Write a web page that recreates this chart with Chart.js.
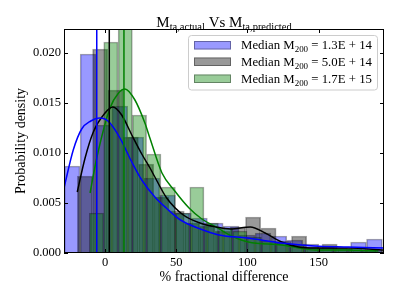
<!DOCTYPE html>
<html>
<head>
<meta charset="utf-8">
<script src="https://cdn.jsdelivr.net/npm/chart.js@4"></script>
<style>
  html, body { margin: 0; padding: 0; background: #fff; }
  canvas { display: block; }
</style>
</head>
<body>
<canvas id="chart" width="399" height="299"></canvas>
<script>
// axis ranges and ticks
const xRange = [-28.8, 195.9];
const yRange = [0, 0.0224];
const xTicks = [0, 50, 100, 150];
const yTicks = [0, 0.005, 0.010, 0.015, 0.020];

// histogram bins (bin centre, density) for each mass group
const blueCentres = [-23.1, -11.9, -0.8, 10.4, 21.6, 32.8, 43.9, 55.1, 66.3, 77.4, 88.6, 99.8, 110.9, 122.1, 133.3, 144.5, 155.6, 166.8, 178.0, 189.2];
const blueDensity = [0.0087, 0.0199, 0.0128, 0.0147, 0.0116, 0.0075, 0.0058, 0.0040, 0.0035, 0.0030, 0.0027, 0.0018, 0.0020, 0.0017, 0.0013, 0.0009, 0.0006, 0.0005, 0.0011, 0.0014];

const blackCentres = [-14.1, -3.4, 7.4, 18.1, 28.9, 39.6, 50.3, 61.1, 71.8, 82.6, 93.3, 104.0, 114.8, 125.5, 136.3, 147.0, 157.7, 168.5, 179.2, 190.0];
const blackDensity = [0.0077, 0.0204, 0.0163, 0.0116, 0.0089, 0.0056, 0.0042, 0.0030, 0.0027, 0.0022, 0.0026, 0.0036, 0.0025, 0.0012, 0.0017, 0.0005, 0.0009, 0.0004, 0.0003, 0.0003];

const greenCentres = [-6.0, 4.1, 14.2, 24.2, 34.3, 44.4, 54.4, 64.5, 74.6, 84.6, 94.7, 104.8, 114.9, 124.9, 135.0, 145.1, 155.1, 165.2, 175.3, 185.4];
const greenDensity = [0.0040, 0.0211, 0.0240, 0.0138, 0.0099, 0.0066, 0.0040, 0.0066, 0.0030, 0.0025, 0.0022, 0.0016, 0.0012, 0.0010, 0.0008, 0.0006, 0.0005, 0.0005, 0.0004, 0.0003];

// kde curves
const blueKdeX = [-28.8, -22.3, -16.4, -10, -4, 0, 3.5, 10.5, 18.8, 25.8, 35, 43, 53, 67, 80, 100, 124, 147, 171, 195.9];
const blueKdeY = [0.0065, 0.0103, 0.0124, 0.0132, 0.0135, 0.0134, 0.0130, 0.0115, 0.0091, 0.0073, 0.0056, 0.0045, 0.0033, 0.0024, 0.0018, 0.0015, 0.0010, 0.0007, 0.0006, 0.0005];

const blackKdeX = [-19.5, -14, -8.2, 0, 5.5, 11.7, 18.8, 25.8, 31.6, 35, 43.3, 55, 66.7, 78, 88, 102, 112.4, 124, 136, 147.5, 171, 195.9];
const blackKdeY = [0.0061, 0.0095, 0.0121, 0.0140, 0.0146, 0.0138, 0.0118, 0.0099, 0.0085, 0.0076, 0.0055, 0.0038, 0.0030, 0.0026, 0.0024, 0.0026, 0.0020, 0.0011, 0.0006, 0.0005, 0.0005, 0.0003];

const greenKdeX = [-10.5, -5.8, 3.5, 9.5, 14, 21, 28, 31.5, 40, 49, 59, 68, 78, 89, 100.6, 124, 136, 147.5, 170, 192];
const greenKdeY = [0.0060, 0.0095, 0.0145, 0.0160, 0.0164, 0.0153, 0.0130, 0.0115, 0.0080, 0.0062, 0.0045, 0.0034, 0.0026, 0.0017, 0.0011, 0.0008, 0.0005, 0.0003, 0.0003, 0.0002];

// median lines and legend values
const medianX = [-5.8, 3.0, 13.3];
const legendValues = ['1.3E + 14', '5.0E + 14', '1.7E + 15'];

const SERIF = '"Liberation Serif", "DejaVu Serif", serif';
const lineColors = ['#0000ff', '#000000', '#008000'];
const fillColors = ['rgba(0,0,255,0.4)', 'rgba(0,0,0,0.4)', 'rgba(0,128,0,0.4)'];
const edgeColor = 'rgba(0,0,0,0.35)';

const pts = (xs, ys) => xs.map((x, i) => ({x: x, y: ys[i]}));

function histSet(centres, dens, i, axis) {
    return {
        type: 'bar',
        data: pts(centres, dens),
        xAxisID: axis,
        backgroundColor: fillColors[i],
        borderColor: edgeColor,
        borderWidth: 1,
        barPercentage: 1,
        categoryPercentage: 1,
        grouped: false,
        order: 5 - i
    };
}

function kdeSet(xs, ys, i) {
    return {
        type: 'line',
        data: pts(xs, ys),
        xAxisID: 'x',
        borderColor: lineColors[i],
        borderWidth: 1.5,
        pointRadius: 0,
        fill: false,
        cubicInterpolationMode: 'monotone',
        order: 1
    };
}

function medianSet(i) {
    return {
        type: 'line',
        data: [{x: medianX[i], y: 0}, {x: medianX[i], y: 1}],
        xAxisID: 'x',
        borderColor: lineColors[i],
        borderWidth: 1.5,
        pointRadius: 0,
        fill: false,
        order: 0
    };
}

function drawRich(ctx, parts, x, y, size, align) {
    const subSize = size * 0.7;
    const widths = parts.map(p => {
        ctx.font = (p[1] ? subSize : size) + 'px ' + SERIF;
        return ctx.measureText(p[0]).width;
    });
    const total = widths.reduce((a, b) => a + b, 0);
    let cx = align === 'center' ? x - total / 2 : x;
    ctx.textAlign = 'left';
    ctx.textBaseline = 'alphabetic';
    parts.forEach((p, i) => {
        ctx.font = (p[1] ? subSize : size) + 'px ' + SERIF;
        ctx.fillText(p[0], cx, p[1] ? y + size * 0.24 : y);
        cx += widths[i];
    });
}

const decor = {
    id: 'decor',
    afterDatasetsDraw(chart) {
        const ctx = chart.ctx;
        const a = chart.chartArea;
        const sx = chart.scales.x, sy = chart.scales.y;
        ctx.save();
        ctx.strokeStyle = '#000';
        ctx.lineWidth = 1;
        ctx.beginPath();
        xTicks.forEach(v => {
            const px = Math.round(sx.getPixelForValue(v)) + 0.5;
            ctx.moveTo(px, a.bottom); ctx.lineTo(px, a.bottom - 4);
            ctx.moveTo(px, a.top); ctx.lineTo(px, a.top + 4);
        });
        yTicks.forEach(v => {
            const py = Math.round(sy.getPixelForValue(v)) + 0.5;
            ctx.moveTo(a.left, py); ctx.lineTo(a.left + 4, py);
            ctx.moveTo(a.right, py); ctx.lineTo(a.right - 4, py);
        });
        ctx.stroke();
        ctx.strokeRect(a.left + 0.5, a.top + 0.5, a.right - a.left - 1, a.bottom - a.top - 1);
        ctx.restore();
    },
    afterDraw(chart) {
        const ctx = chart.ctx;
        const a = chart.chartArea;
        ctx.save();
        ctx.fillStyle = '#000';
        // title
        drawRich(ctx, [['M', false], ['ta,actual', true], [' Vs M', false], ['ta,predicted', true]],
            (a.left + a.right) / 2, 26.5, 15, 'center');

        // legend box
        const bx = 188.5, by = 35.5, bw = 189, bh = 54.5, r = 3;
        ctx.beginPath();
        ctx.moveTo(bx + r, by);
        ctx.arcTo(bx + bw, by, bx + bw, by + bh, r);
        ctx.arcTo(bx + bw, by + bh, bx, by + bh, r);
        ctx.arcTo(bx, by + bh, bx, by, r);
        ctx.arcTo(bx, by, bx + bw, by, r);
        ctx.closePath();
        ctx.fillStyle = 'rgba(255,255,255,0.8)';
        ctx.fill();
        ctx.strokeStyle = '#cccccc';
        ctx.lineWidth = 1;
        ctx.stroke();

        const rowTop = [41, 57.5, 74.5];
        legendValues.forEach((val, i) => {
            ctx.fillStyle = fillColors[i];
            ctx.fillRect(194, rowTop[i], 37, 8.5);
            ctx.strokeStyle = edgeColor;
            ctx.strokeRect(194.5, rowTop[i] + 0.5, 36, 7.5);
            ctx.fillStyle = '#000';
            drawRich(ctx, [['Median M', false], ['200', true], [' = ' + val, false]],
                241, rowTop[i] + 8.3, 12.8, 'left');
        });
        ctx.restore();
    }
};

const hiddenX = () => ({
    type: 'linear', display: false, offset: false,
    min: xRange[0], max: xRange[1],
    ticks: {stepSize: 100, includeBounds: false}
});

new Chart(document.getElementById('chart').getContext('2d'), {
    type: 'bar',
    data: {
        datasets: [
            histSet(blueCentres, blueDensity, 0, 'xb'),
            histSet(blackCentres, blackDensity, 1, 'xk'),
            histSet(greenCentres, greenDensity, 2, 'xg'),
            kdeSet(blueKdeX, blueKdeY, 0),
            kdeSet(blackKdeX, blackKdeY, 1),
            kdeSet(greenKdeX, greenKdeY, 2),
            medianSet(0),
            medianSet(1),
            medianSet(2)
        ]
    },
    options: {
        responsive: false,
        animation: false,
        devicePixelRatio: 1,
        layout: {padding: {left: 0, top: 29, right: 15, bottom: 0}},
        plugins: {
            legend: {display: false},
            tooltip: {enabled: false},
            title: {display: false}
        },
        scales: {
            x: {
                type: 'linear', offset: false,
                min: xRange[0], max: xRange[1],
                grid: {display: false, drawTicks: false, offset: false},
                border: {display: false},
                afterBuildTicks: s => { s.ticks = xTicks.map(v => ({value: v})); },
                afterFit: s => { s.height = 46; },
                ticks: {
                    padding: 2, color: '#000',
                    font: {family: SERIF, size: 12.5},
                    callback: v => String(v)
                },
                title: {
                    display: true, text: '% fractional difference', color: '#000',
                    font: {family: SERIF, size: 14},
                    padding: {top: 0, bottom: 13}
                }
            },
            xb: hiddenX(),
            xk: hiddenX(),
            xg: hiddenX(),
            y: {
                type: 'linear',
                min: yRange[0], max: yRange[1],
                grid: {display: false, drawTicks: false},
                border: {display: false},
                afterBuildTicks: s => { s.ticks = yTicks.map(v => ({value: v})); },
                afterFit: s => { s.width = 64; },
                ticks: {
                    padding: 3, color: '#000',
                    font: {family: SERIF, size: 12.5},
                    callback: v => v.toFixed(3)
                },
                title: {
                    display: true, text: 'Probability density', color: '#000',
                    font: {family: SERIF, size: 14},
                    padding: {top: 13, bottom: 0}
                }
            }
        }
    },
    plugins: [decor]
});
</script>
</body>
</html>
